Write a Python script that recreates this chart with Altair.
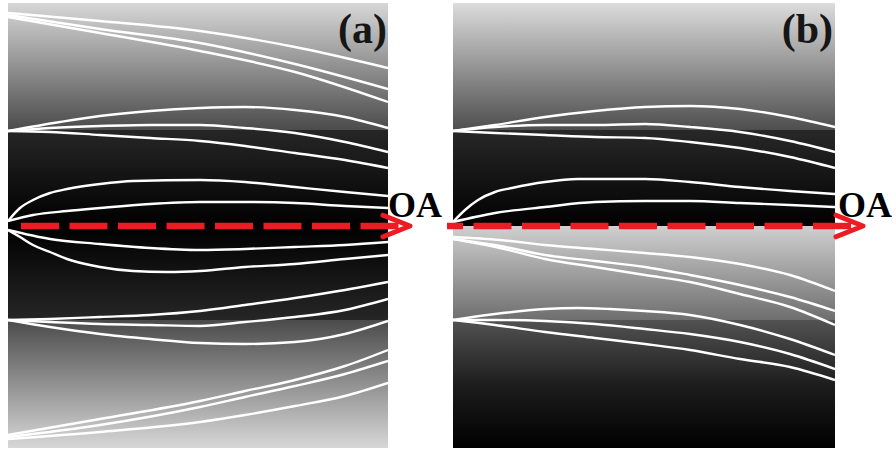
import altair as alt
import pandas as pd

# Transverse extent of both panels (r), propagation extent (z)
Y_MIN, Y_MAX = -222, 223
A_ZMAX, B_ZMAX = 380, 382
PANEL_H = Y_MAX - Y_MIN

RED = "#ec1c24"

# ---- panel (a): ray trajectories as (z, r) points ----
A_T1 = [(0, 213), (92, 205), (192, 195), (287, 179), (380, 158)]
A_T2 = [(0, 211), (92, 197), (192, 183), (287, 162), (380, 137)]
A_T3 = [(0, 209), (92, 193), (192, 175), (287, 154), (380, 124)]
A_M1 = [(0, 95), (52, 104), (92, 110), (142, 115), (192, 118), (237, 119), (287, 116), (337, 109), (380, 98)]
A_M2 = [(0, 95), (42, 98), (92, 100), (142, 101), (192, 101), (237, 98), (287, 93), (337, 84), (380, 74)]
A_M3 = [(0, 95), (42, 94), (92, 91), (142, 88), (192, 85), (237, 80), (287, 73), (337, 66), (380, 58)]
A_A1 = [(0, 5), (12, 18), (25, 26), (42, 33), (59, 37), (92, 42), (125, 45), (192, 46), (237, 44), (287, 39), (337, 34), (380, 30)]
A_A2 = [(0, 5), (25, 11), (59, 15), (92, 18), (142, 22), (192, 24), (237, 24), (287, 23), (337, 20), (380, 18)]
A_B1 = [(0, -4), (42, -13), (92, -18), (142, -22), (192, -24), (237, -23), (287, -21), (337, -19), (380, -16)]
A_B2 = [(0, -4), (12, -11), (25, -19), (42, -26), (59, -33), (92, -41), (125, -45), (159, -46), (192, -45), (237, -41), (287, -38), (337, -33), (380, -29)]
A_C1 = [(0, -94), (42, -93), (92, -91), (142, -89), (192, -85), (237, -79), (287, -72), (337, -64), (380, -56)]
A_C2 = [(0, -94), (42, -96), (92, -98), (142, -99), (192, -100), (237, -96), (287, -91), (337, -84), (380, -73)]
A_C3 = [(0, -94), (42, -101), (92, -108), (142, -113), (192, -117), (237, -118), (287, -116), (337, -108), (380, -95)]
A_F = [(0, -209), (92, -193), (192, -175), (237, -165), (287, -154), (337, -140), (380, -124)]
A_G = [(0, -211), (92, -199), (192, -181), (237, -171), (287, -160), (337, -148), (380, -135)]
A_H = [(0, -213), (92, -206), (192, -196), (237, -189), (287, -180), (337, -170), (380, -157)]

# ---- panel (b) ----
B_M1 = [(0, 95), (42, 101), (92, 109), (142, 115), (192, 119), (237, 120), (287, 117), (337, 109), (382, 99)]
B_M2 = [(0, 95), (42, 99), (92, 101), (142, 101), (192, 102), (237, 99), (287, 94), (337, 85), (382, 74)]
B_M3 = [(0, 95), (42, 93), (92, 91), (142, 89), (192, 88), (237, 84), (287, 78), (337, 69), (382, 58)]
B_A1 = [(0, 4), (12, 16), (25, 26), (42, 34), (59, 38), (92, 44), (125, 47), (192, 47), (237, 44), (287, 39), (337, 35), (382, 32)]
B_A2 = [(0, 4), (42, 13), (92, 19), (142, 24), (192, 25), (237, 25), (287, 23), (337, 21), (382, 19)]
B_D1 = [(0, -11), (47, -14), (92, -19), (142, -23), (192, -27), (237, -31), (287, -38), (337, -49), (382, -65)]
B_D2 = [(0, -13), (47, -20), (92, -29), (142, -35), (192, -41), (237, -49), (287, -59), (337, -71), (382, -85)]
B_D3 = [(0, -13), (47, -22), (92, -33), (142, -41), (192, -49), (237, -56), (287, -68), (337, -81), (382, -99)]
B_E1 = [(0, -94), (42, -88), (92, -83), (125, -82), (157, -83), (192, -85), (237, -89), (287, -99), (337, -113), (382, -129)]
B_E2 = [(0, -94), (42, -94), (92, -95), (142, -98), (192, -103), (237, -108), (287, -116), (337, -128), (382, -143)]
B_E3 = [(0, -94), (42, -99), (92, -106), (142, -112), (192, -118), (237, -124), (287, -133), (337, -141), (382, -154)]

# ---- index-profile shading: r positions (top to bottom) and grey levels ----
A_BG_R = [223, 96, 96, 0, -94, -94, -222]
A_BG_GREY = [215, 75, 38, 0, 38, 75, 215]
B_BG_R = [223, 96, 96, 0, 0, -94, -94, -160, -222]
B_BG_GREY = [220, 78, 40, 0, 208, 110, 82, 28, 0]

# ---- labels ----
A_TAG, B_TAG = "(a)", "(b)"
AXIS_LABEL = "OA"


def grey(g):
    return f"#{g:02x}{g:02x}{g:02x}"


def ray_frame(rays):
    rows = []
    for name, pts in rays.items():
        for i, (z, r) in enumerate(pts):
            rows.append({"ray": name, "i": i, "z": z, "r": r})
    return pd.DataFrame(rows)


def panel(rays, bg_r, bg_grey, zmax, tag, tag_z, oa_z, arrow_z0, arrow_z1, tip_z, dash_offset):
    xs = alt.Scale(domain=[0, zmax], nice=False, zero=False)
    ys = alt.Scale(domain=[Y_MIN, Y_MAX], nice=False, zero=False)

    def X(f):
        return alt.X(f, type="quantitative", scale=xs, axis=None)

    def Y(f):
        return alt.Y(f, type="quantitative", scale=ys, axis=None)

    stops = [
        alt.GradientStop(offset=(Y_MAX - r) / PANEL_H, color=grey(g))
        for r, g in zip(bg_r, bg_grey)
    ]
    shade = alt.LinearGradient(gradient="linear", stops=stops, x1=0, x2=0, y1=0, y2=1)
    box = pd.DataFrame({"z0": [0], "z1": [zmax], "r0": [Y_MIN], "r1": [Y_MAX]})
    bg = alt.Chart(box).mark_rect(color=shade).encode(
        x=X("z0"), x2="z1", y=Y("r0"), y2="r1"
    )

    lines = alt.Chart(ray_frame(rays)).mark_line(
        color="white", strokeWidth=2.4, interpolate="monotone", clip=True
    ).encode(x=X("z"), y=Y("r"), detail="ray:N", order="i:Q")

    axis_df = pd.DataFrame({"z0": [arrow_z0], "z1": [arrow_z1], "r": [0]})
    arrow = alt.Chart(axis_df).mark_rule(
        color=RED, strokeWidth=6.5, strokeDash=[38, 10.5],
        strokeDashOffset=dash_offset, strokeCap="butt"
    ).encode(x=X("z0"), x2="z1", y=Y("r"))

    head = alt.Chart(pd.DataFrame({"z": [tip_z], "r": [0]})).mark_point(
        shape="M-1,-0.4L0,0L-1,0.4", size=2916, filled=False, stroke=RED,
        strokeWidth=5, opacity=1, strokeCap="round", strokeJoin="round"
    ).encode(x=X("z"), y=Y("r"))

    tag_txt = alt.Chart(pd.DataFrame({"z": [tag_z], "r": [183], "t": [tag]})).mark_text(
        font="Liberation Serif", fontWeight="bold", fontSize=42,
        align="right", baseline="alphabetic", color="#161616"
    ).encode(x=X("z"), y=Y("r"), text="t:N")

    oa_txt = alt.Chart(pd.DataFrame({"z": [oa_z], "r": [9], "t": [AXIS_LABEL]})).mark_text(
        font="Liberation Serif", fontWeight="bold", fontSize=36,
        align="left", baseline="alphabetic", color="black"
    ).encode(x=X("z"), y=Y("r"), text="t:N")

    return alt.layer(bg, lines, arrow, head, tag_txt, oa_txt).properties(
        width=zmax, height=PANEL_H
    )


rays_a = {
    "T1": A_T1, "T2": A_T2, "T3": A_T3, "M1": A_M1, "M2": A_M2, "M3": A_M3,
    "A1": A_A1, "A2": A_A2, "B1": A_B1, "B2": A_B2, "C1": A_C1, "C2": A_C2,
    "C3": A_C3, "F": A_F, "G": A_G, "H": A_H,
}
rays_b = {
    "M1": B_M1, "M2": B_M2, "M3": B_M3, "A1": B_A1, "A2": B_A2,
    "D1": B_D1, "D2": B_D2, "D3": B_D3, "E1": B_E1, "E2": B_E2, "E3": B_E3,
}

left = panel(rays_a, A_BG_R, A_BG_GREY, A_ZMAX, A_TAG, 379, 380, 4, 398, 402, 39.5)
right = panel(rays_b, B_BG_R, B_BG_GREY, B_ZMAX, B_TAG, 380, 385, -6, 404, 410, 22)

chart = alt.hconcat(left, right, spacing=65, bounds="flush").properties(
    padding={"left": 8, "top": 3, "right": 0, "bottom": 0},
    background="white",
).configure_view(stroke=None)

chart.save("out.html", embed_options={"renderer": "svg", "actions": False})
